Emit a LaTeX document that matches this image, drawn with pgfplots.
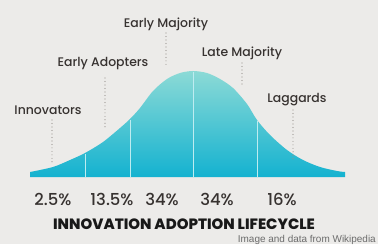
\documentclass[border=0pt]{standalone}
\usepackage{pgfplots}
\pgfplotsset{compat=1.18}
\usepackage{fontspec}
\setmainfont{Poppins}[UprightFont=* Medium, BoldFont=* ExtraBold]
\newfontfamily\footfont{Liberation Sans}
\definecolor{bgcol}{RGB}{236,235,233}
\definecolor{toptl}{RGB}{140,218,214}
\definecolor{bottl}{RGB}{20,178,208}
\definecolor{divcol}{RGB}{190,236,240}
\definecolor{txt}{RGB}{55,50,48}
\definecolor{dotcol}{RGB}{150,145,140}
\begin{document}
\begin{tikzpicture}
\begin{axis}[
  width=378bp, height=244bp, scale only axis,
  xmin=0, xmax=378, ymin=-67, ymax=177,
  hide axis, clip=false,
  axis background/.style={fill=bgcol},
]
% bell curve (x px, height above baseline px)
\addplot[draw=none, top color=toptl, bottom color=bottl, smooth, tension=0.5] coordinates {
(30,5) (53,10) (70,17) (85,24) (103,35) (120,49) (130,58) (140,69) (153,86) (167,98) (180,104) (193,106) (207,104) (220,98) (233,89) (247,73) (257,57) (270,42) (287,27) (303,17) (320,10) (337,6) (345,5)
} \closedcycle;
% dividers
\addplot[divcol, line width=0.8pt] coordinates {(85,0) (85,23)};
\addplot[divcol, line width=0.8pt] coordinates {(130,0) (130,57)};
\addplot[divcol, line width=0.8pt] coordinates {(193,0) (193,105)};
\addplot[divcol, line width=0.8pt] coordinates {(257,0) (257,56)};
% dotted leaders
\addplot[dotcol, line width=1.2pt, line cap=round, dash pattern=on 0pt off 3.5pt] coordinates {(52,57) (52,14)};
\addplot[dotcol, line width=1.2pt, line cap=round, dash pattern=on 0pt off 3.5pt] coordinates {(105,99) (105,47)};
\addplot[dotcol, line width=1.2pt, line cap=round, dash pattern=on 0pt off 3.5pt] coordinates {(166,144) (166,110)};
\addplot[dotcol, line width=1.2pt, line cap=round, dash pattern=on 0pt off 3.5pt] coordinates {(242,114) (242,92)};
\addplot[dotcol, line width=1.2pt, line cap=round, dash pattern=on 0pt off 3.5pt] coordinates {(293,67) (293,17)};
% labels
\tikzset{lab/.style={anchor=base, txt, inner sep=0pt, font=\fontsize{12.5}{13}\selectfont},
         pct/.style={anchor=base, txt, inner sep=0pt, font=\fontsize{16.5}{17}\selectfont}}
\node[lab] at (axis cs:48,62) {Innovators};
\node[lab] at (axis cs:103,110) {Early Adopters};
\node[lab] at (axis cs:166,149) {Early Majority};
\node[lab] at (axis cs:242,120) {Late Majority};
\node[lab] at (axis cs:297,74) {Laggards};
% percentages
\node[pct] at (axis cs:53,-28) {2.5\%};
\node[pct] at (axis cs:112,-28) {13.5\%};
\node[pct] at (axis cs:162,-28) {34\%};
\node[pct] at (axis cs:217,-28) {34\%};
\node[pct] at (axis cs:282,-28) {16\%};
% title
\node[anchor=base, inner sep=0pt, black!90, font=\bfseries\fontsize{15}{16}\selectfont] at (axis cs:184,-52) {INNOVATION ADOPTION LIFECYCLE};
\node[anchor=base east, inner sep=0pt, gray!85!black, font=\footfont\fontsize{10}{11}\selectfont] at (axis cs:376,-65.5) {Image and data from Wikipedia};
\end{axis}
\end{tikzpicture}
\end{document}
